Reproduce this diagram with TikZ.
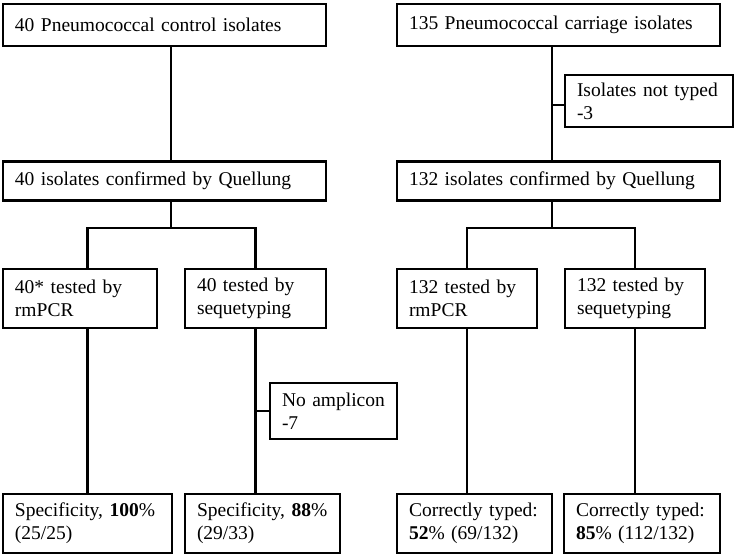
\documentclass[tikz,border=0pt]{standalone}
\usepackage{fontspec}
\setmainfont{Liberation Serif}
\usepackage{tikz}
\tikzstyle{box_normal} = [rectangle, draw, line width=2.2pt, inner xsep=12pt, inner ysep=0pt, align=left, font=\fontsize{19.5}{23}\selectfont]
\tikzstyle{edge_flow} = [line width=2.8pt]

\begin{document}
\begin{tikzpicture}[x=1pt,y=-1pt]
\useasboundingbox (0,0) rectangle (737,556);
% control branch
\node (ctrl) at (164.5,25) [box_normal, minimum width=323, minimum height=42, text width=299] {40 Pneumococcal control isolates};
\node (ctrlQ) at (164.5,181) [box_normal, minimum width=323, minimum height=39, text width=299] {40 isolates confirmed by Quellung};
\node (ctrlPCR) at (80,298.5) [box_normal, minimum width=154, minimum height=59, text width=130] {40* tested by\\rmPCR};
\node (ctrlSeq) at (255.5,298.5) [box_normal, minimum width=141, minimum height=59, text width=117] {40 tested by\\sequetyping};
\node (noamp) at (333.5,411) [box_normal, minimum width=127, minimum height=56, text width=103] {No amplicon\\-7};
\node (ctrlSpec) at (87.5,523.5) [box_normal, minimum width=169, minimum height=59, text width=145] {Specificity, \textbf{100}\%\\(25/25)};
\node (ctrlSpecB) at (262.5,523.5) [box_normal, minimum width=155, minimum height=59, text width=131] {Specificity, \textbf{88}\%\\(29/33)};
% carriage branch
\node (carr) at (558.5,25) [box_normal, minimum width=323, minimum height=42, text width=299] {135 Pneumococcal carriage isolates};
\node (notyped) at (649,101) [box_normal, minimum width=168, minimum height=52, text width=144] {Isolates not typed\\-3};
\node (carrQ) at (558.5,181) [box_normal, minimum width=323, minimum height=39, text width=299] {132 isolates confirmed by Quellung};
\node (carrPCR) at (467,298.5) [box_normal, minimum width=140, minimum height=59, text width=116] {132 tested by\\rmPCR};
\node (carrSeq) at (635,298.5) [box_normal, minimum width=140, minimum height=59, text width=116] {132 tested by\\sequetyping};
\node (carrTyped) at (474.5,523.5) [box_normal, minimum width=155, minimum height=59, text width=131] {Correctly typed:\\\textbf{52}\% (69/132)};
\node (carrTypedB) at (642,523.5) [box_normal, minimum width=156, minimum height=59, text width=132] {Correctly typed:\\\textbf{85}\% (112/132)};

\coordinate (ltrunk) at (171,228);
\coordinate (rtrunk) at (552,228);
\coordinate (rside) at (552,105);

\draw[edge_flow] (ctrl.south -| ltrunk) -- (ctrlQ.north -| ltrunk);
\draw[edge_flow] (ctrlQ.south -| ltrunk) -- (ltrunk);
\draw[edge_flow] (ctrlSpec.north |- ctrlPCR.north) |- (ltrunk) -| (ctrlSeq.north);
\draw[edge_flow] (ctrlSpec.north |- ctrlPCR.south) -- (ctrlSpec.north);
\draw[edge_flow] (ctrlSeq.south) -- (ctrlSeq.south |- ctrlSpecB.north);
\draw[edge_flow] (ctrlSeq.south |- noamp.west) -- (noamp.west);

\draw[edge_flow] (carr.south -| rtrunk) -- (carrQ.north -| rtrunk);
\draw[edge_flow] (rside) -- (rside -| notyped.west);
\draw[edge_flow] (carrQ.south -| rtrunk) -- (rtrunk);
\draw[edge_flow] (carrPCR.north) |- (rtrunk) -| (carrSeq.north);
\draw[edge_flow] (carrPCR.south) -- (carrPCR.south |- carrTyped.north);
\draw[edge_flow] (carrSeq.south) -- (carrSeq.south |- carrTypedB.north);
\end{tikzpicture}
\end{document}
